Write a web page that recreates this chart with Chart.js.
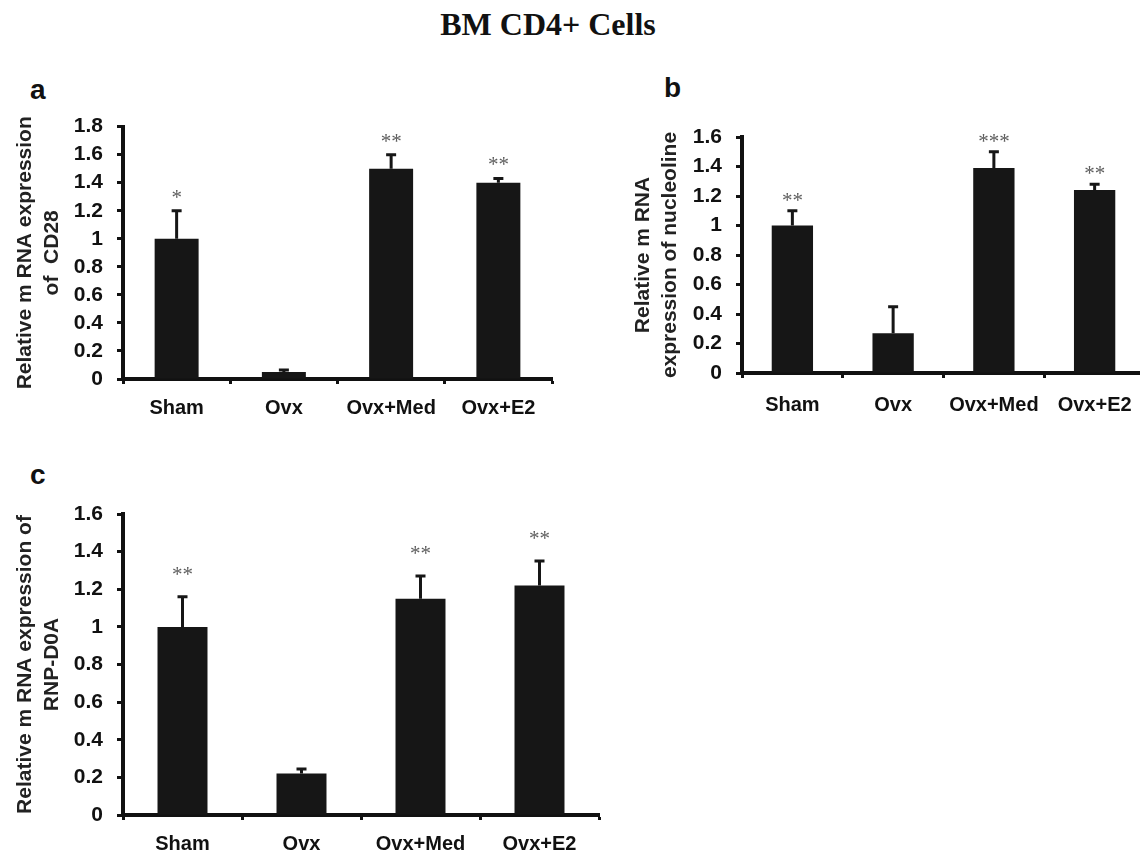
<!DOCTYPE html>
<html>
<head>
<meta charset="utf-8">
<script src="https://cdn.jsdelivr.net/npm/chart.js@4.4.1/dist/chart.umd.min.js"></script>
<style>
    html, body { margin: 0; padding: 0; background: #fff; overflow: hidden; }
    body { width: 1140px; height: 854px; position: relative; }
    canvas { position: absolute; }
    .titulo { position: absolute; left: 0; width: 1096px; top: 8px; text-align: center;
              font: bold 32px "Liberation Serif", "Times New Roman", serif; line-height: 32px; color: #111; }
    .letra { position: absolute; font: bold 28px "Liberation Sans", Arial, sans-serif; line-height: 28px; color: #111; }
</style>
</head>
<body>
<div class="titulo">BM CD4+ Cells</div>
<div class="letra" style="left:30px; top:76px">a</div>
<div class="letra" style="left:664px; top:74px">b</div>
<div class="letra" style="left:30px; top:461px">c</div>

<canvas id="grafica_a" width="580" height="330" style="left:0; top:100px"></canvas>
<canvas id="grafica_b" width="560" height="320" style="left:600px; top:110px"></canvas>
<canvas id="grafica_c" width="620" height="374" style="left:0; top:480px"></canvas>

<script>
/* groups on the x axis (same for the three panels) */
const grupos = ['Sham', 'Ovx', 'Ovx+Med', 'Ovx+E2'];

/* panel a: CD28 */
const cd28_media = [1.0, 0.05, 1.5, 1.4];
const cd28_error = [0.2, 0.015, 0.1, 0.03];
const cd28_sig   = ['*', '', '**', '**'];

/* panel b: nucleoline */
const nucleoline_media = [1.0, 0.27, 1.39, 1.24];
const nucleoline_error = [0.1, 0.18, 0.11, 0.04];
const nucleoline_sig   = ['**', '', '***', '**'];

/* panel c: RNP-D0A */
const rnp_media = [1.0, 0.22, 1.15, 1.22];
const rnp_error = [0.16, 0.025, 0.12, 0.13];
const rnp_sig   = ['**', '', '**', '**'];

/* y axis ranges */
const y_max_a = 1.8;
const y_max_b = 1.6;
const y_max_c = 1.6;
const y_paso  = 0.2;

const NEGRO = '#161616';
const FUENTE = '"Liberation Sans", Arial, sans-serif';

/* draws the upper error bar and the asterisks over each bar */
const plugin_errores = {
    id: 'errores',
    afterDatasetsDraw(chart, args, opts) {
        const ctx = chart.ctx;
        const y = chart.scales.y;
        const barras = chart.getDatasetMeta(0).data;
        ctx.save();
        barras.forEach((barra, i) => {
            const tope = y.getPixelForValue(opts.media[i] + opts.error[i]);
            ctx.strokeStyle = NEGRO;
            ctx.lineWidth = 3;
            ctx.beginPath();
            ctx.moveTo(barra.x, barra.y);
            ctx.lineTo(barra.x, tope);
            ctx.moveTo(barra.x - 5, tope);
            ctx.lineTo(barra.x + 5, tope);
            ctx.stroke();

            if (opts.sig[i]) {
                ctx.fillStyle = '#5e5e5e';
                ctx.font = '21px "Liberation Serif", serif';
                ctx.textAlign = 'center';
                ctx.textBaseline = 'alphabetic';
                ctx.fillText(opts.sig[i], barra.x, tope - opts.separacion + 10);
            }
        });
        ctx.restore();
    }
};

/* builds one bar panel; ancho_y / alto_x fix the plot area */
function crear_panel(id, media, error, sig, y_max, titulo, p) {
    return new Chart(document.getElementById(id), {
        type: 'bar',
        data: {
            labels: grupos,
            datasets: [{
                data: media,
                backgroundColor: NEGRO,
                borderWidth: 0,
                barPercentage: p.barra,
                categoryPercentage: 1
            }]
        },
        options: {
            responsive: false,
            animation: false,
            devicePixelRatio: 1,
            layout: { padding: { top: p.arriba, right: p.derecha, left: 0, bottom: 0 } },
            plugins: {
                legend: { display: false },
                tooltip: { enabled: false },
                errores: { media, error, sig, separacion: p.separacion }
            },
            scales: {
                x: {
                    afterFit: s => { s.height = p.alto_x; },
                    grid: { drawOnChartArea: false, drawTicks: true, tickLength: 5, tickWidth: 3, tickColor: '#111', offset: true },
                    border: { color: '#111', width: 4 },
                    ticks: { color: '#111', padding: p.pad_x, autoSkip: false, maxRotation: 0,
                             font: { family: FUENTE, size: 20, weight: 'bold' } }
                },
                y: {
                    min: 0,
                    max: y_max,
                    afterFit: s => { s.width = p.ancho_y; },
                    grid: { drawOnChartArea: false, drawTicks: true, tickLength: 6, tickWidth: 3, tickColor: '#111' },
                    border: { color: '#111', width: 4 },
                    ticks: {
                        stepSize: y_paso,
                        autoSkip: false,
                        color: '#111',
                        padding: 14,
                        font: { family: FUENTE, size: 21, weight: 'bold' },
                        callback: v => String(+v.toFixed(1))
                    },
                    title: {
                        display: true,
                        text: titulo,
                        color: '#222',
                        padding: { top: p.pad_titulo, bottom: 0 },
                        font: { family: FUENTE, size: 21, weight: 'bold', lineHeight: 1.28 }
                    }
                }
            }
        },
        plugins: [plugin_errores]
    });
}

crear_panel('grafica_a', cd28_media, cd28_error, cd28_sig, y_max_a,
    ['Relative m RNA expression', 'of  CD28'],
    { ancho_y: 123, alto_x: 51, arriba: 26, derecha: 28, barra: 0.41, separacion: 17, pad_x: 12, pad_titulo: 12 });

crear_panel('grafica_b', nucleoline_media, nucleoline_error, nucleoline_sig, y_max_b,
    ['Relative m RNA', 'expression of nucleoline'],
    { ancho_y: 142, alto_x: 57, arriba: 27, derecha: 15, barra: 0.41, separacion: 14, pad_x: 15, pad_titulo: 30 });

crear_panel('grafica_c', rnp_media, rnp_error, rnp_sig, y_max_c,
    ['Relative m RNA expression of', 'RNP-D0A'],
    { ancho_y: 123, alto_x: 39, arriba: 34, derecha: 21, barra: 0.42, separacion: 26, pad_x: 12, pad_titulo: 12 });
</script>
</body>
</html>
